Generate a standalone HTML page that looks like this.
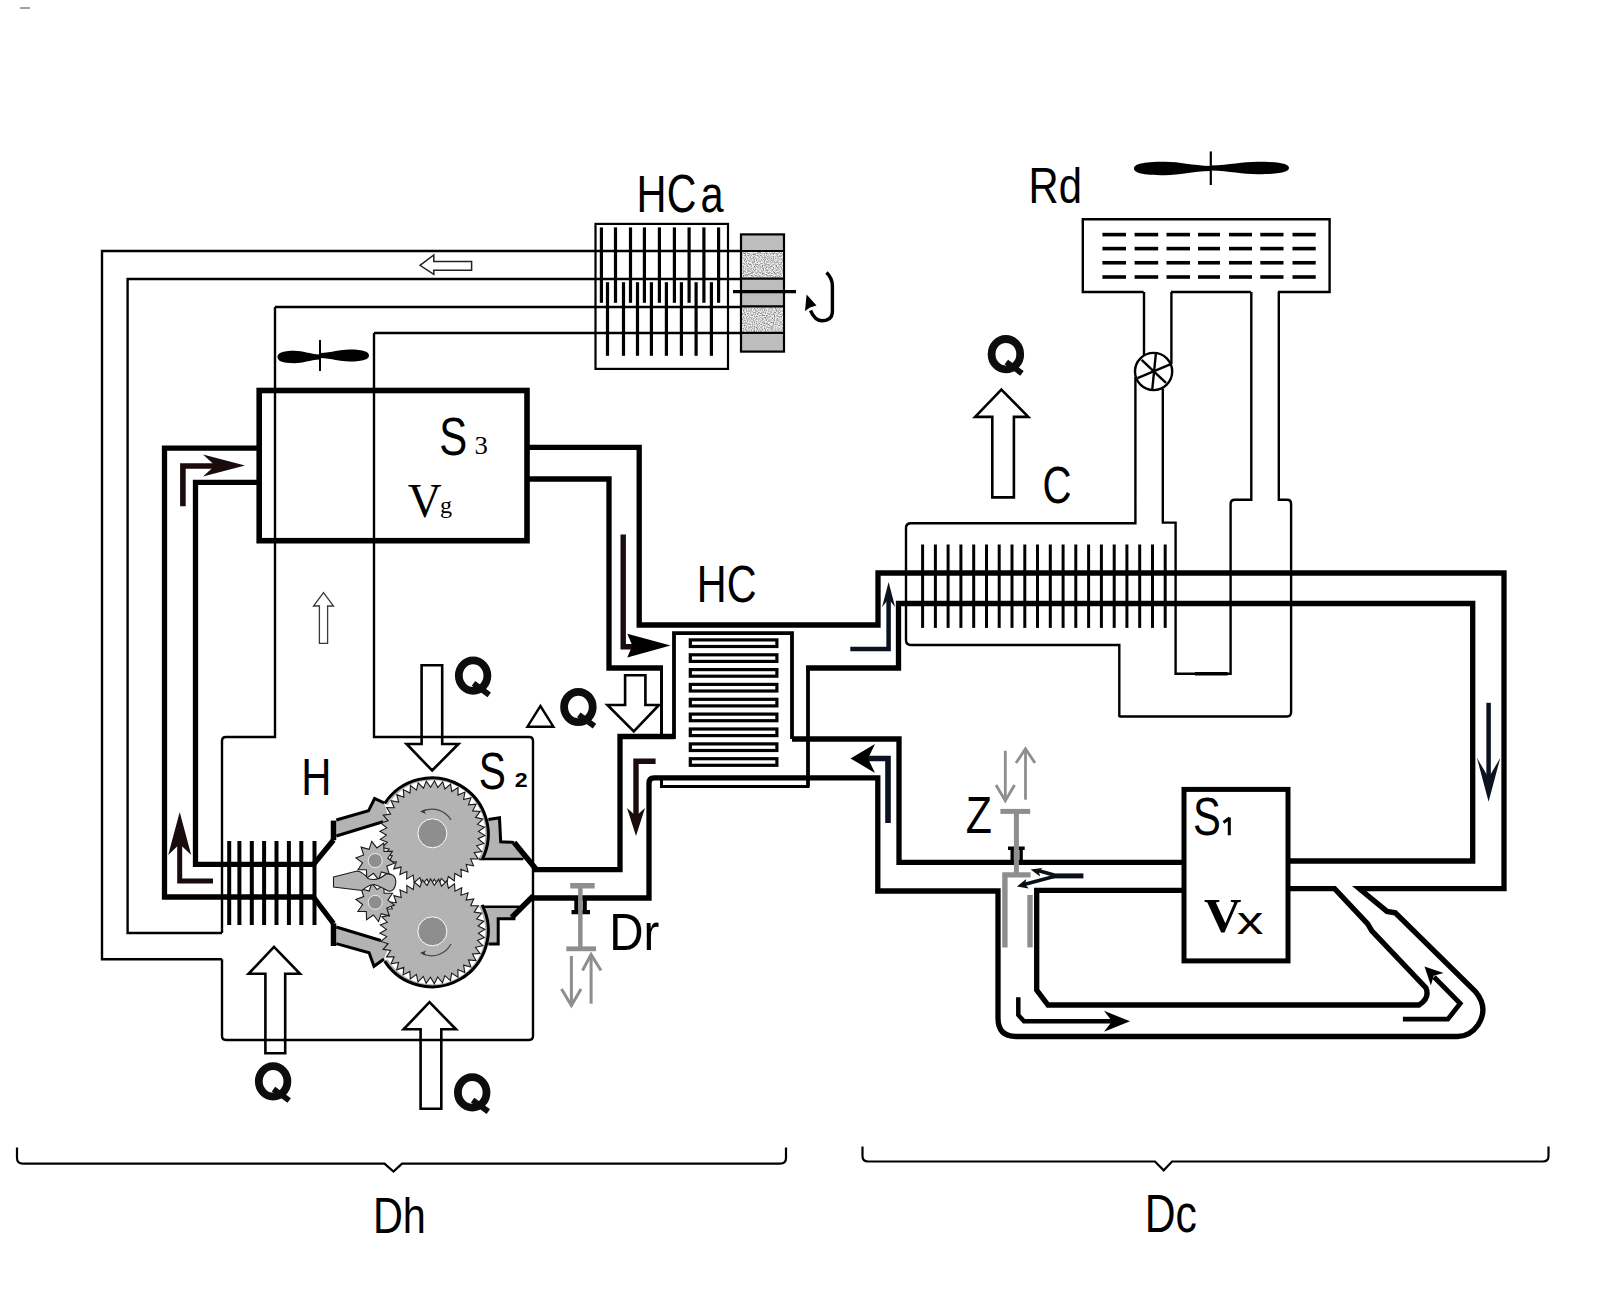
<!DOCTYPE html>
<html><head><meta charset="utf-8"><style>html,body{margin:0;padding:0;background:#fff;}svg{display:block;}</style></head>
<body><svg width="1600" height="1303" viewBox="0 0 1600 1303">
<rect width="1600" height="1303" fill="#fff"/>
<g fill="none" stroke="#000" stroke-width="2.4" stroke-linejoin="miter">
<path d="M222 959.3 H102 V251 H741"/>
<path d="M222 933 H127.6 V279 H741"/>
<path d="M275 307 H741"/>
<path d="M374 333 H741"/>
<path d="M275 307 V737 H226 Q222 737 222 741 V933"/>
<path d="M374 333 V737 H529 Q533 737 533 741 V1036 Q533 1040 529 1040 H226 Q222 1040 222 1036 V959.3"/>
</g>
<rect x="595.5" y="223.9" width="132.5" height="145" fill="none" stroke="#000" stroke-width="2.2"/>
<g stroke="#000" stroke-width="3.2" fill="none">
<line x1="601.4" y1="227.4" x2="601.4" y2="302.8"/>
<line x1="615.5" y1="227.4" x2="615.5" y2="302.8"/>
<line x1="630.5" y1="227.4" x2="630.5" y2="302.8"/>
<line x1="644.4" y1="227.4" x2="644.4" y2="302.8"/>
<line x1="659.4" y1="227.4" x2="659.4" y2="302.8"/>
<line x1="674.4" y1="227.4" x2="674.4" y2="302.8"/>
<line x1="689.1" y1="227.4" x2="689.1" y2="302.8"/>
<line x1="703.9" y1="227.4" x2="703.9" y2="302.8"/>
<line x1="718.6" y1="227.4" x2="718.6" y2="302.8"/>
<line x1="607.5" y1="282.2" x2="607.5" y2="355.8"/>
<line x1="623.5" y1="282.2" x2="623.5" y2="355.8"/>
<line x1="637.5" y1="282.2" x2="637.5" y2="355.8"/>
<line x1="651.4" y1="282.2" x2="651.4" y2="355.8"/>
<line x1="666.4" y1="282.2" x2="666.4" y2="355.8"/>
<line x1="681.4" y1="282.2" x2="681.4" y2="355.8"/>
<line x1="696.1" y1="282.2" x2="696.1" y2="355.8"/>
<line x1="711.4" y1="282.2" x2="711.4" y2="355.8"/>
</g>
<defs><filter id="noise" x="0" y="0" width="100%" height="100%"><feTurbulence type="fractalNoise" baseFrequency="0.9" numOctaves="1" seed="3"/><feColorMatrix values="0 0 0 0 0  0 0 0 0 0  0 0 0 0 0  0 0 0 -2.2 1.35"/></filter></defs>
<rect x="741" y="234.4" width="43" height="117.2" fill="#bdbdbd" stroke="#000" stroke-width="2.2"/>
<rect x="742" y="252" width="41" height="26" fill="#f2f2f2"/>
<rect x="742" y="307" width="41" height="25" fill="#f2f2f2"/>
<rect x="742" y="252" width="41" height="26" fill="#000" filter="url(#noise)" opacity="0.6"/>
<rect x="742" y="307" width="41" height="25" fill="#000" filter="url(#noise)" opacity="0.6"/>
<g stroke="#000" stroke-width="2.2"><line x1="741" y1="251" x2="784" y2="251"/><line x1="741" y1="278.6" x2="784" y2="278.6"/><line x1="741" y1="306.3" x2="784" y2="306.3"/><line x1="741" y1="332.8" x2="784" y2="332.8"/></g>
<line x1="733" y1="291.6" x2="796" y2="291.6" stroke="#000" stroke-width="3.2"/>
<path d="M826.5 272.4 Q832.4 278 832.4 286 V312 Q832 320.7 821.7 320.7 Q815 320.7 810.5 310.5" fill="none" stroke="#000" stroke-width="3.4"/>
<path d="M806.6 294.4 L816.5 305.6 L810 307.5 L805 311 Z" fill="#000"/>
<path d="M420 265.3 L433.8 255 V261.6 H471.6 V270.3 H433.8 V274.4 Z" fill="none" stroke="#222" stroke-width="1.5"/>
<path d="M320 354.5 C309.4 354.0 303.0 350.8 294.5 350.8 C281.8 350.8 277.5 353.2 277.5 357.0 C277.5 360.8 281.8 363.2 294.5 363.2 C303.0 363.2 309.4 360.0 320 359.5 Z" fill="#000"/>
<path d="M320 353.0 C332.2 352.5 339.6 349.5 349.4 349.5 C364.1 349.5 369.0 351.9 369.0 355.5 C369.0 359.1 364.1 361.5 349.4 361.5 C339.6 361.5 332.2 358.5 320 358.0 Z" fill="#000"/>
<line x1="320" y1="340" x2="320" y2="371" stroke="#000" stroke-width="2"/>
<path d="M1210.8 166.0 C1191.6 165.5 1180.1 161.8 1164.7 161.8 C1141.7 161.8 1134.0 164.4 1134.0 168.5 C1134.0 172.6 1141.7 175.2 1164.7 175.2 C1180.1 175.2 1191.6 171.5 1210.8 171.0 Z" fill="#000"/>
<path d="M1210.8 165.5 C1230.3 165.0 1242.1 161.8 1257.7 161.8 C1281.2 161.8 1289.0 164.2 1289.0 168.0 C1289.0 171.8 1281.2 174.2 1257.7 174.2 C1242.1 174.2 1230.3 171.0 1210.8 170.5 Z" fill="#000"/>
<line x1="1210.8" y1="151.4" x2="1210.8" y2="185" stroke="#000" stroke-width="2.2"/>
<rect x="259.2" y="390.5" width="267.8" height="150.2" fill="none" stroke="#000" stroke-width="5.6"/>
<g fill="none" stroke="#000" stroke-width="5.3" stroke-linejoin="miter">
<path d="M315 897 H164.5 V448.2 H257"/>
<path d="M315 864.4 H195.5 V482.3 H257"/>
<path d="M527 447.4 H639.2 V625 H878 V573 H1504 V888.7 H1359.4 L1387 911.4 L1395.3 912.8 L1475.4 991.5 Q1489 1008 1478 1025 Q1470 1036.5 1457.5 1036.5 H1016 Q998 1036.5 998 1018 V891 H877.8 V777.8 H654 Q649 777.8 649 783 V898 H533"/>
<path d="M527 479 H609 V668 H663"/><path d="M661.5 668 V736.5" stroke-width="3"/>
<path d="M533 869.7 H620 V736.5 H674"/><path d="M792 739 H899 V862.4 H1184"/>
<path d="M674 739 V633.2 H792 V739" stroke-width="3.8"/>
<path d="M1288 861 H1472.7 V603.5 H898.5 V668 H806"/><path d="M808 666 V786.4" stroke-width="3.8"/><path d="M809.5 786.4 H661.5 V778" stroke-width="3"/>
<path d="M1184 890.4 H1036.7 V990 L1048 1005 H1419 Q1430 998 1426 988 L1371.8 930.8 L1367.7 923.9 L1334.6 888.7 H1288"/>
</g>
<rect x="1184" y="789.4" width="104" height="171.5" fill="#fff" stroke="#000" stroke-width="5"/>
<g fill="none" stroke="#000" stroke-width="3.2">
<rect x="690.3" y="639.9" width="86.6" height="6.6" />
<rect x="690.3" y="654.8" width="86.6" height="6.6" />
<rect x="690.3" y="669.6" width="86.6" height="6.6" />
<rect x="690.3" y="684.4" width="86.6" height="6.6" />
<rect x="690.3" y="699.3" width="86.6" height="6.6" />
<rect x="690.3" y="714.1" width="86.6" height="6.6" />
<rect x="690.3" y="729.0" width="86.6" height="6.6" />
<rect x="690.3" y="743.9" width="86.6" height="6.6" />
<rect x="690.3" y="758.7" width="86.6" height="6.6" />
</g>
<path d="M1119.3 717 V645 H911 Q906 645 906 640 V528 Q906 523.3 911 523.3 H1135.4 V377 M1162.8 388.5 V522.6 H1175.6 V673.8 H1230.6 V504 Q1230.6 499.8 1235 499.8 H1251.3 V292 M1171.4 292 V364 M1144 292 V355.5 M1278.8 292 V499.8 H1287 Q1291.1 499.8 1291.1 504 V712 Q1291.1 716.5 1287 716.5 H1119.3" fill="none" stroke="#000" stroke-width="2.4"/>
<g stroke="#000" stroke-width="3">
<line x1="922.6" y1="544.5" x2="922.6" y2="627.9"/>
<line x1="935.4" y1="544.5" x2="935.4" y2="627.9"/>
<line x1="948.1" y1="544.5" x2="948.1" y2="627.9"/>
<line x1="960.9" y1="544.5" x2="960.9" y2="627.9"/>
<line x1="973.7" y1="544.5" x2="973.7" y2="627.9"/>
<line x1="986.5" y1="544.5" x2="986.5" y2="627.9"/>
<line x1="999.2" y1="544.5" x2="999.2" y2="627.9"/>
<line x1="1012.0" y1="544.5" x2="1012.0" y2="627.9"/>
<line x1="1024.8" y1="544.5" x2="1024.8" y2="627.9"/>
<line x1="1037.5" y1="544.5" x2="1037.5" y2="627.9"/>
<line x1="1050.3" y1="544.5" x2="1050.3" y2="627.9"/>
<line x1="1063.1" y1="544.5" x2="1063.1" y2="627.9"/>
<line x1="1075.8" y1="544.5" x2="1075.8" y2="627.9"/>
<line x1="1088.6" y1="544.5" x2="1088.6" y2="627.9"/>
<line x1="1101.4" y1="544.5" x2="1101.4" y2="627.9"/>
<line x1="1114.2" y1="544.5" x2="1114.2" y2="627.9"/>
<line x1="1126.9" y1="544.5" x2="1126.9" y2="627.9"/>
<line x1="1139.7" y1="544.5" x2="1139.7" y2="627.9"/>
<line x1="1152.5" y1="544.5" x2="1152.5" y2="627.9"/>
<line x1="1165.2" y1="544.5" x2="1165.2" y2="627.9"/>
</g>
<line x1="1195" y1="673.8" x2="1227.5" y2="673.8" stroke="#000" stroke-width="3.6"/>
<path d="M1143.6 292 H1082.8 V219.3 H1329.6 V292 H1277.9 M1250.9 292 H1171" fill="none" stroke="#000" stroke-width="2.4"/>
<g stroke="#000" stroke-width="3.6">
<line x1="1102.4" y1="234.6" x2="1126" y2="234.6"/>
<line x1="1134.6" y1="234.6" x2="1158.2" y2="234.6"/>
<line x1="1166.5" y1="234.6" x2="1190" y2="234.6"/>
<line x1="1198" y1="234.6" x2="1220" y2="234.6"/>
<line x1="1229" y1="234.6" x2="1252" y2="234.6"/>
<line x1="1260.3" y1="234.6" x2="1283.5" y2="234.6"/>
<line x1="1292.5" y1="234.6" x2="1315.7" y2="234.6"/>
<line x1="1102.4" y1="248.6" x2="1126" y2="248.6"/>
<line x1="1134.6" y1="248.6" x2="1158.2" y2="248.6"/>
<line x1="1166.5" y1="248.6" x2="1190" y2="248.6"/>
<line x1="1198" y1="248.6" x2="1220" y2="248.6"/>
<line x1="1229" y1="248.6" x2="1252" y2="248.6"/>
<line x1="1260.3" y1="248.6" x2="1283.5" y2="248.6"/>
<line x1="1292.5" y1="248.6" x2="1315.7" y2="248.6"/>
<line x1="1102.4" y1="262.75" x2="1126" y2="262.75"/>
<line x1="1134.6" y1="262.75" x2="1158.2" y2="262.75"/>
<line x1="1166.5" y1="262.75" x2="1190" y2="262.75"/>
<line x1="1198" y1="262.75" x2="1220" y2="262.75"/>
<line x1="1229" y1="262.75" x2="1252" y2="262.75"/>
<line x1="1260.3" y1="262.75" x2="1283.5" y2="262.75"/>
<line x1="1292.5" y1="262.75" x2="1315.7" y2="262.75"/>
<line x1="1102.4" y1="277" x2="1126" y2="277"/>
<line x1="1134.6" y1="277" x2="1158.2" y2="277"/>
<line x1="1166.5" y1="277" x2="1190" y2="277"/>
<line x1="1198" y1="277" x2="1220" y2="277"/>
<line x1="1229" y1="277" x2="1252" y2="277"/>
<line x1="1260.3" y1="277" x2="1283.5" y2="277"/>
<line x1="1292.5" y1="277" x2="1315.7" y2="277"/>
</g>
<g fill="none" stroke="#000" stroke-width="2.4"><circle cx="1153.6" cy="371.5" r="18.6"/><line x1="1155.9" y1="353.5" x2="1152.2" y2="390"/><line x1="1141.6" y1="359.8" x2="1166" y2="382.8"/><line x1="1170.2" y1="364.4" x2="1137.5" y2="378.2"/></g>
<g stroke="#000" stroke-width="4">
<line x1="229.2" y1="841" x2="229.2" y2="925"/>
<line x1="239.4" y1="841" x2="239.4" y2="925"/>
<line x1="251.8" y1="841" x2="251.8" y2="925"/>
<line x1="264.1" y1="841" x2="264.1" y2="925"/>
<line x1="276.5" y1="841" x2="276.5" y2="925"/>
<line x1="288.9" y1="841" x2="288.9" y2="925"/>
<line x1="301.3" y1="841" x2="301.3" y2="925"/>
<line x1="314.5" y1="841" x2="314.5" y2="925"/>
</g>
<path d="M336.3 820 L368.5 810.8 L374.6 798.5 L384 802.8 L390 822 L382.6 821.8 L336.3 836 Z" fill="#b3b3b3"/>
<path d="M336.3 820 L368.5 810.8 L374.6 798.5 L384 802.8 M336.3 836 L383 821.8" stroke="#000" stroke-width="3" fill="none" stroke-linejoin="miter"/>
<path d="M336.3 927 L380.8 940.5 L390 944 L384 959 L374 966.3 L369.1 952.8 L336.3 943.6 Z" fill="#b3b3b3"/>
<path d="M336.3 927 L380.8 940.5 M336.3 943.6 L369.1 952.8 L374 966.3 L384 959" stroke="#000" stroke-width="3" fill="none" stroke-linejoin="miter"/>
<path d="M333.5 820.6 V840.2" stroke="#000" stroke-width="5.5"/>
<path d="M333.5 923.3 V946" stroke="#000" stroke-width="5.5"/>
<path d="M313.4 864.6 L333.5 840 M313.4 897 L333.5 923.5" stroke="#000" stroke-width="5.3" fill="none"/>
<path d="M478 819.6 L499.5 817.8 L500.7 841.7 L514.2 842.4 L526 858.9 L478 858.9 Z" fill="#b3b3b3"/>
<path d="M488.4 819.6 L499.5 817.8 L500.7 841.7 L514.2 842.4" stroke="#000" stroke-width="3" fill="none" stroke-linejoin="miter"/>
<path d="M479.2 858.9 L523.4 858.9" stroke="#000" stroke-width="2.5" fill="none"/>
<path d="M514.2 842.4 L536.3 869.4" stroke="#000" stroke-width="5.5" fill="none"/>
<path d="M478 906.8 L519.7 906.8 L511.7 918.8 L498.2 918.8 L498.2 943.9 L478 943.9 Z" fill="#b3b3b3"/>
<path d="M481.7 906.8 L519.7 906.8" stroke="#000" stroke-width="2.5" fill="none"/>
<path d="M515.4 918.8 L498.2 918.8 L498.2 943.9 L488.4 943.9" stroke="#000" stroke-width="3" fill="none" stroke-linejoin="miter"/>
<path d="M511.7 917.5 L533.2 896" stroke="#000" stroke-width="5.5" fill="none"/>
<path d="M432.4 833.3 L384.9 803.6 A56 56 0 0 1 481.8 859.6 Z" fill="#b3b3b3"/>
<path d="M432.4 833.3 L387.6 805.3 A52.8 52.8 0 0 1 479.0 858.1 Z" fill="#fff"/>
<path d="M384.7 803.5 A56.3 56.3 0 0 1 482.1 859.7" fill="none" stroke="#000" stroke-width="3"/>
<path d="M432.4 931.3 L481.8 905.0 A56 56 0 0 1 384.9 961.0 Z" fill="#b3b3b3"/>
<path d="M432.4 931.3 L479.0 906.5 A52.8 52.8 0 0 1 387.6 959.3 Z" fill="#fff"/>
<path d="M482.1 904.9 A56.3 56.3 0 0 1 384.7 961.1" fill="none" stroke="#000" stroke-width="3"/>
<path d="M484.9 835.4 L478.1 838.7 L483.9 843.6 L476.7 845.8 L481.6 851.5 L474.2 852.6 L478.2 859.0 L470.6 858.9 L473.6 865.8 L466.2 864.5 L468.0 871.9 L460.9 869.4 L461.5 877.0 L454.8 873.5 L454.3 881.0 L448.3 876.5 L446.6 883.8 L441.3 878.4 L438.5 885.4 L434.2 879.3 L430.3 885.8 L427.0 879.0 L422.1 884.8 L419.9 877.6 L414.2 882.5 L413.1 875.1 L406.7 879.1 L406.8 871.5 L399.9 874.5 L401.2 867.1 L393.8 868.9 L396.3 861.8 L388.7 862.4 L392.2 855.7 L384.7 855.2 L389.2 849.2 L381.9 847.5 L387.3 842.2 L380.3 839.4 L386.4 835.1 L379.9 831.2 L386.7 827.9 L380.9 823.0 L388.1 820.8 L383.2 815.1 L390.6 814.0 L386.6 807.6 L394.2 807.7 L391.2 800.8 L398.6 802.1 L396.8 794.7 L403.9 797.2 L403.3 789.6 L410.0 793.1 L410.5 785.6 L416.5 790.1 L418.2 782.8 L423.5 788.2 L426.3 781.2 L430.6 787.3 L434.5 780.8 L437.8 787.6 L442.7 781.8 L444.9 789.0 L450.6 784.1 L451.7 791.5 L458.1 787.5 L458.0 795.1 L464.9 792.1 L463.6 799.5 L471.0 797.7 L468.5 804.8 L476.1 804.2 L472.6 810.9 L480.1 811.4 L475.6 817.4 L482.9 819.1 L477.5 824.4 L484.5 827.2 L478.4 831.5 Z" fill="#b3b3b3" stroke="#1a1a1a" stroke-width="1.1"/>
<path d="M484.5 937.6 L477.5 940.4 L482.9 945.7 L475.5 947.3 L480.0 953.4 L472.5 953.9 L476.0 960.6 L468.5 959.9 L470.9 967.0 L463.6 965.1 L464.8 972.6 L457.9 969.6 L458.0 977.2 L451.6 973.1 L450.5 980.6 L444.8 975.6 L442.5 982.8 L437.7 977.0 L434.3 983.8 L430.5 977.3 L426.1 983.4 L423.3 976.4 L418.0 981.8 L416.4 974.4 L410.3 978.9 L409.8 971.4 L403.1 974.9 L403.8 967.4 L396.7 969.8 L398.6 962.5 L391.1 963.7 L394.1 956.8 L386.5 956.9 L390.6 950.5 L383.1 949.4 L388.1 943.7 L380.9 941.4 L386.7 936.6 L379.9 933.2 L386.4 929.4 L380.3 925.0 L387.3 922.2 L381.9 916.9 L389.3 915.3 L384.8 909.2 L392.3 908.7 L388.8 902.0 L396.3 902.7 L393.9 895.6 L401.2 897.5 L400.0 890.0 L406.9 893.0 L406.8 885.4 L413.2 889.5 L414.3 882.0 L420.0 887.0 L422.3 879.8 L427.1 885.6 L430.5 878.8 L434.3 885.3 L438.7 879.2 L441.5 886.2 L446.8 880.8 L448.4 888.2 L454.5 883.7 L455.0 891.2 L461.7 887.7 L461.0 895.2 L468.1 892.8 L466.2 900.1 L473.7 898.9 L470.7 905.8 L478.3 905.7 L474.2 912.1 L481.7 913.2 L476.7 918.9 L483.9 921.2 L478.1 926.0 L484.9 929.4 L478.4 933.2 Z" fill="#b3b3b3" stroke="#1a1a1a" stroke-width="1.1"/>
<circle cx="432.4" cy="833.3" r="14.5" fill="#8e8e8e" stroke="#fff" stroke-width="1"/>
<circle cx="432.4" cy="931.3" r="14.5" fill="#8e8e8e" stroke="#fff" stroke-width="1"/>
<path d="M371.7 841.4 L376.9 847.9 L383.7 843.0 L384.0 851.4 L392.4 851.4 L387.8 858.3 L394.5 863.2 L386.7 866.2 L389.3 874.1 L381.3 871.9 L378.7 879.8 L373.5 873.3 L366.7 878.2 L366.4 869.8 L358.0 869.8 L362.6 862.9 L355.9 858.0 L363.7 855.0 L361.1 847.1 L369.1 849.3 Z" fill="#b3b3b3" stroke="#1a1a1a" stroke-width="1.1"/>
<path d="M378.5 921.5 L373.4 915.0 L366.6 919.8 L366.3 911.5 L357.9 911.4 L362.6 904.5 L355.9 899.5 L363.7 896.6 L361.2 888.7 L369.2 891.0 L371.9 883.1 L377.0 889.6 L383.8 884.8 L384.1 893.1 L392.5 893.2 L387.8 900.1 L394.5 905.1 L386.7 908.0 L389.2 915.9 L381.2 913.6 Z" fill="#b3b3b3" stroke="#1a1a1a" stroke-width="1.1"/>
<circle cx="375.2" cy="860.6" r="7" fill="#8e8e8e" stroke="#fff" stroke-width="0.8"/>
<circle cx="375.2" cy="902.3" r="7" fill="#8e8e8e" stroke="#fff" stroke-width="0.8"/>
<path d="M333.5 877 L357 871 Q363 872 368 878.5 Q377 882 386 874 Q396 873 395.8 882.5 Q395 892 388 891 Q380 886 374 884.5 Q368 885 362 890.5 L333.5 887 Z" fill="#b3b3b3" stroke="#1a1a1a" stroke-width="1.1"/>
<path d="M423 811 A22 22 0 0 1 451 820" fill="none" stroke="#444" stroke-width="1.2"/>
<path d="M420.0 811.5 L426.0 809.0 L424.5 811.5 L426.0 814.0 Z" fill="#333"/>
<path d="M451 944 A22 22 0 0 1 423 954" fill="none" stroke="#444" stroke-width="1.2"/>
<path d="M420.0 953.0 L426.0 950.5 L424.5 953.0 L426.0 955.5 Z" fill="#333"/>
<path d="M182.9 506.3 V466 H222" fill="none" stroke="#1a0c0c" stroke-width="5.6"/>
<path d="M245.0 465.5 L203.0 476.5 L215.0 465.5 L203.0 454.5 Z" fill="#1a0c0c"/>
<path d="M213 880.9 H179.7 V840" fill="none" stroke="#1a0c0c" stroke-width="5"/>
<path d="M179.7 812.0 L191.2 855.0 L179.7 844.0 L168.2 855.0 Z" fill="#1a0c0c"/>
<path d="M623.2 534.4 V646.7 H640" fill="none" stroke="#1a0c0c" stroke-width="5.4"/>
<path d="M670.6 645.6 L627.3 657.4 L632.3 645.6 L627.3 633.8 Z" fill="#000"/>
<path d="M850.3 649 H888.6 V598" fill="none" stroke="#0c1220" stroke-width="4.5"/>
<path d="M888.6 582.0 L895.1 607.0 L888.6 599.0 L882.1 607.0 Z" fill="#0c1220"/>
<path d="M888 823 V758.5 H868" fill="none" stroke="#0c1220" stroke-width="5.6"/>
<path d="M850.5 758.4 L875.0 743.9 L868.0 758.4 L875.0 772.9 Z" fill="#000"/>
<path d="M1488.6 702.8 V785" fill="none" stroke="#0c1220" stroke-width="4.5"/>
<path d="M1488.6 801.8 L1476.9 757.8 L1488.6 777.8 L1500.3 757.8 Z" fill="#0c1220"/>
<path d="M636 819 V761.2 H655.6" fill="none" stroke="#1a0c0c" stroke-width="5.4"/>
<path d="M636.0 836.0 L627.0 808.0 L636.0 816.0 L645.0 808.0 Z" fill="#1a0c0c"/>
<path d="M1018.3 997.2 V1015 L1024 1021.3 H1112" fill="none" stroke="#000" stroke-width="4.5"/>
<path d="M1130.0 1021.3 L1104.0 1031.8 L1112.0 1021.3 L1104.0 1010.8 Z" fill="#000"/>
<path d="M1402.9 1019.2 H1447.8 L1460.2 1003.5 L1434 977" fill="none" stroke="#000" stroke-width="4.8"/>
<path d="M1424.5 966.5 L1443.6 972.9 L1433.7 975.7 L1430.9 985.6 Z" fill="#000"/>
<path d="M1083.4 875.9 H1052.5" fill="none" stroke="#0a0f18" stroke-width="5"/>
<path d="M1054 876.5 L1024 884.5" fill="none" stroke="#0a0f18" stroke-width="3.5"/>
<path d="M1016.9 886.6 L1026.2 878.9 L1025.1 884.4 L1028.8 888.6 Z" fill="#0a0f18"/>
<path d="M1054 875 L1038 870.5" fill="none" stroke="#0a0f18" stroke-width="3.5"/>
<path d="M1030.6 869.4 L1042.4 867.9 L1038.8 871.6 L1040.1 876.6 Z" fill="#0a0f18"/>
<path d="M323.5 592.7 L333.5 606 H327.6 V643.4 H319.4 V606 H313.5 Z" fill="none" stroke="#3a3a3a" stroke-width="1.3" stroke-linejoin="miter"/>
<path d="M1001.4 389.6 L1028.3 416.9 H1013.9 V497.4 H992.3 V416.9 H975.1 Z" fill="none" stroke="#000" stroke-width="2.6"/>
<path d="M432.1 770.5 L458.5 744 H442.2 V665.2 H421.6 V744 H406.6 Z" fill="none" stroke="#000" stroke-width="2.6"/>
<path d="M633.8 731.3 L659 705 H645.4 V675.2 H625.1 V705 H607.4 Z" fill="none" stroke="#000" stroke-width="2.6"/>
<path d="M274 946.8 L300 973.8 H285.2 V1053.3 H265.4 V973.8 H248.6 Z" fill="none" stroke="#000" stroke-width="2.6"/>
<path d="M429.5 1002.2 L456 1029.3 H441.3 V1108.8 H420.6 V1029.3 H403.6 Z" fill="none" stroke="#000" stroke-width="2.6"/>
<path d="M540.4 706 L553.4 726.7 H527.4 Z" fill="none" stroke="#000" stroke-width="2.4"/>
<path d="M1008 848.3 H1024.7 M1012.2 848.6 V861 M1021.1 848.6 V861" stroke="#000" stroke-width="3.4" fill="none"/>
<g stroke="#8e8e8e" fill="none"><line x1="1000.4" y1="811.4" x2="1030.2" y2="811.4" stroke-width="5"/><line x1="1016.4" y1="811" x2="1016.4" y2="875" stroke-width="5"/><path d="M1004.9 947.4 V874.9 H1030.6" stroke-width="5.4"/><line x1="1030" y1="895" x2="1030" y2="947.4" stroke-width="5.4"/><line x1="1005.3" y1="750.8" x2="1005.3" y2="798" stroke-width="2.8"/><path d="M996 785 L1005.3 800.7 L1014.6 785" stroke-width="2.8"/><line x1="1025.5" y1="799.7" x2="1025.5" y2="751" stroke-width="2.8"/><path d="M1016 763 L1025.5 748.7 L1035 763" stroke-width="2.8"/></g>
<path d="M571.5 912.1 H590 M576.4 896 V911 M584.7 896 V911" stroke="#000" stroke-width="4.2" fill="none"/>
<g stroke="#8e8e8e" fill="none"><line x1="570.2" y1="885.75" x2="594.7" y2="885.75" stroke-width="5.5"/><line x1="580.35" y1="886" x2="580.35" y2="949" stroke-width="4.5"/><line x1="566.3" y1="948.8" x2="596" y2="948.8" stroke-width="4.8"/><line x1="571.4" y1="956" x2="571.4" y2="1003" stroke-width="3"/><path d="M561.5 989 L571.4 1005.5 L581 989" stroke-width="3"/><line x1="591.1" y1="1003.7" x2="591.1" y2="957" stroke-width="3"/><path d="M582.5 970.5 L591.1 954.6 L601 970.5" stroke-width="3"/></g>
<text transform="matrix(0.4161 0 0 0.5232 636.47 211.90)" font-family="Liberation Sans" font-weight="normal" font-size="100" fill="#000">H</text>
<text transform="matrix(0.4111 0 0 0.5324 666.64 212.07)" font-family="Liberation Sans" font-weight="normal" font-size="100" fill="#000">C</text>
<text transform="matrix(0.4154 0 0 0.5127 700.54 211.69)" font-family="Liberation Sans" font-weight="normal" font-size="100" fill="#000">a</text>
<text transform="matrix(0.4177 0 0 0.4946 1028.56 203.21)" font-family="Liberation Sans" font-weight="normal" font-size="100" fill="#000">Rd</text>
<text transform="matrix(0.4016 0 0 0.5211 1042.39 503.18)" font-family="Liberation Sans" font-weight="normal" font-size="100" fill="#000">C</text>
<text transform="matrix(0.4136 0 0 0.5211 696.79 602.38)" font-family="Liberation Sans" font-weight="normal" font-size="100" fill="#000">HC</text>
<text transform="matrix(0.4193 0 0 0.5282 439.20 455.37)" font-family="Liberation Sans" font-weight="normal" font-size="100" fill="#000">S</text>
<text transform="matrix(0.2683 0 0 0.2485 474.46 454.35)" font-family="Liberation Serif" font-weight="normal" font-size="100" fill="#000">3</text>
<text transform="matrix(0.4686 0 0 0.4881 407.73 516.72)" font-family="Liberation Serif" font-weight="normal" font-size="100" fill="#000">V</text>
<text transform="matrix(0.2409 0 0 0.2342 439.94 513.18)" font-family="Liberation Serif" font-weight="normal" font-size="100" fill="#000">g</text>
<text transform="matrix(0.4179 0 0 0.5203 301.26 794.90)" font-family="Liberation Sans" font-weight="normal" font-size="100" fill="#000">H</text>
<text transform="matrix(0.4070 0 0 0.5239 478.66 788.68)" font-family="Liberation Sans" font-weight="normal" font-size="100" fill="#000">S</text>
<text transform="matrix(0.2327 0 0 0.2000 514.80 787.00)" font-family="Liberation Sans" font-weight="bold" font-size="100" fill="#000">2</text>
<text transform="matrix(0.4291 0 0 0.5232 965.81 833.00)" font-family="Liberation Sans" font-weight="normal" font-size="100" fill="#000">Z</text>
<text transform="matrix(0.4750 0 0 0.5232 609.30 949.70)" font-family="Liberation Sans" font-weight="normal" font-size="100" fill="#000">Dr</text>
<text transform="matrix(0.4175 0 0 0.5366 1193.01 834.66)" font-family="Liberation Sans" font-weight="normal" font-size="100" fill="#000">S</text>
<path d="M1229.3 835.2 V817.5 M1229.6 818 L1223.5 822.5" stroke="#000" stroke-width="3" fill="none"/>
<text transform="matrix(0.5186 0 0 0.4896 1204.08 932.02)" font-family="Liberation Serif" font-weight="bold" font-size="100" fill="#000">V</text>
<text transform="matrix(0.5333 0 0 0.3811 1236.77 933.90)" font-family="Liberation Sans" font-weight="normal" font-size="100" fill="#000">x</text>
<text transform="matrix(0.4142 0 0 0.4973 372.89 1232.90)" font-family="Liberation Sans" font-weight="normal" font-size="100" fill="#000">Dh</text>
<text transform="matrix(0.4270 0 0 0.5286 1144.68 1232.37)" font-family="Liberation Sans" font-weight="normal" font-size="100" fill="#000">Dc</text>
<ellipse cx="1005.9" cy="354.2" rx="14.3" ry="15.2" fill="none" stroke="#0d0d0d" stroke-width="7.8"/><path d="M1006.3 362.0 L1022.0 373.4" stroke="#0d0d0d" stroke-width="5.8" fill="none"/>
<ellipse cx="473.1" cy="675.6" rx="14.3" ry="15.2" fill="none" stroke="#0d0d0d" stroke-width="7.8"/><path d="M473.5 683.4 L489.2 694.8" stroke="#0d0d0d" stroke-width="5.8" fill="none"/>
<ellipse cx="578.4" cy="707.0" rx="14.3" ry="15.2" fill="none" stroke="#0d0d0d" stroke-width="7.8"/><path d="M578.8 714.8 L594.5 726.2" stroke="#0d0d0d" stroke-width="5.8" fill="none"/>
<ellipse cx="273.1" cy="1081.3" rx="14.3" ry="15.2" fill="none" stroke="#0d0d0d" stroke-width="7.8"/><path d="M273.5 1089.1 L289.2 1100.5" stroke="#0d0d0d" stroke-width="5.8" fill="none"/>
<ellipse cx="472.2" cy="1092.4" rx="14.3" ry="15.2" fill="none" stroke="#0d0d0d" stroke-width="7.8"/><path d="M472.6 1100.2 L488.3 1111.6" stroke="#0d0d0d" stroke-width="5.8" fill="none"/>
<path d="M17 1147.5 V1158 Q17 1163.6 23 1163.6 H384.5 L393.5 1171.6 L402 1163.6 H780 Q786 1163.6 786 1158 V1147.5" fill="none" stroke="#000" stroke-width="2.2"/>
<path d="M862.5 1146.5 V1156 Q862.5 1161.5 868 1161.5 H1155 L1163.7 1170.3 L1172 1161.5 H1543 Q1548.5 1161.5 1548.5 1156 V1146.5" fill="none" stroke="#000" stroke-width="2.2"/>
<line x1="20" y1="8" x2="30" y2="8" stroke="#444" stroke-width="1"/>
</svg></body></html>
